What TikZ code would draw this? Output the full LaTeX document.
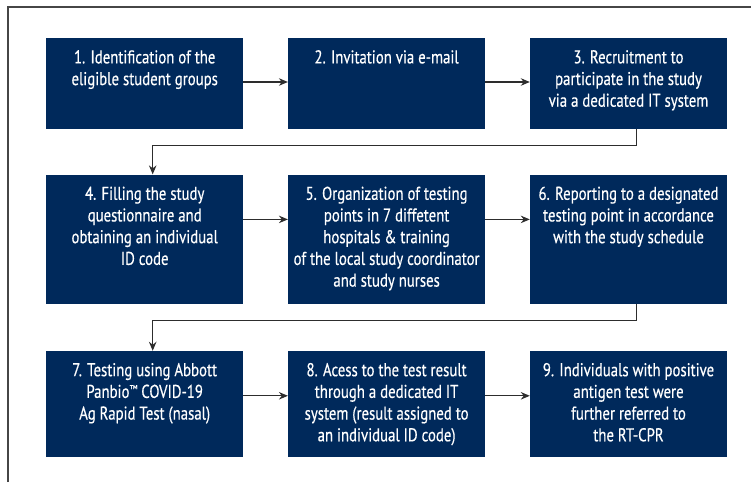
\documentclass[tikz,border=0pt]{standalone}
\usepackage{fontspec}
\usepackage{xcolor}
\usetikzlibrary{
    arrows.meta,
    positioning
}
\newfontfamily\stepfont[FakeStretch=0.8, FakeBold=0.4]{PT Sans}
\definecolor{navy}{RGB}{0,41,91}
\definecolor{linegray}{RGB}{45,45,45}
\definecolor{framegray}{RGB}{70,70,70}
\newcommand{\steptext}[2]{\parbox[c][#1][t]{197pt}{\centering\vspace{12pt}#2\par}}
\newcommand{\smalltm}{\raisebox{0.27em}{\scalebox{0.6}{™}}}

\begin{document}
\begin{tikzpicture}[x=1pt, y=-1pt,
    stepbox/.style={fill=navy, text=white, inner sep=0pt,
        font=\stepfont\fontsize{18.5pt}{21.7pt}\selectfont},
    flow/.style={draw=linegray, line width=1.2pt, -{Stealth[length=9pt, width=7.5pt]}},
    node distance=45pt and 44.5pt]
    \useasboundingbox (0, 0) rectangle (751, 482);
    \draw[framegray, line width=1.4pt] (8, 482) -- (8, 7) -- (751, 7);
    % first row
    \node[stepbox, anchor=north west] (s1) at (46, 38) {\steptext{91pt}{1. Identification of the\\eligible student groups}};
    \node[stepbox, right=of s1] (s2) {\steptext{91pt}{2. Invitation via e-mail}};
    \node[stepbox, right=of s2] (s3) {\steptext{91pt}{3. Recruitment to\\participate in the study\\via a dedicated IT system}};
    % second row
    \node[stepbox, below=of s1] (s4) {\steptext{129pt}{4. Filling the study\\questionnaire and\\obtaining an individual\\ID code}};
    \node[stepbox, right=of s4] (s5) {\steptext{129pt}{5. Organization of testing\\points in 7 diffetent\\hospitals \& training\\of the local study coordinator\\and study nurses}};
    \node[stepbox, right=of s5] (s6) {\steptext{129pt}{6. Reporting to a designated\\testing point in accordance\\with the study schedule}};
    % third row
    \node[stepbox, below=47pt of s4] (s7) {\steptext{106pt}{7. Testing using Abbott\\Panbio\smalltm{} COVID-19\\Ag Rapid Test (nasal)}};
    \node[stepbox, right=of s7] (s8) {\steptext{106pt}{8. Acess to the test result\\through a dedicated IT\\system (result assigned to\\an individual ID code)}};
    \node[stepbox, right=of s8] (s9) {\steptext{106pt}{9. Individuals with positive\\antigen test were\\further referred to\\the RT-CPR}};
    \draw[flow] ([yshift=-44pt]s1.north east) -- ([yshift=-44pt]s2.north west);
    \draw[flow] ([yshift=-44pt]s2.north east) -- ([yshift=-44pt]s3.north west);
    \draw[flow] ([xshift=8pt]s3.south) -- ++(0, 16) -| ([xshift=8pt]s4.north);
    \draw[flow] ([yshift=-45pt]s4.north east) -- ([yshift=-45pt]s5.north west);
    \draw[flow] ([yshift=-45pt]s5.north east) -- ([yshift=-45pt]s6.north west);
    \draw[flow] ([xshift=8pt]s6.south) -- ++(0, 17) -| ([xshift=8pt]s7.north);
    \draw[flow] ([yshift=-45pt]s7.north east) -- ([yshift=-45pt]s8.north west);
    \draw[flow] ([yshift=-45pt]s8.north east) -- ([yshift=-45pt]s9.north west);
\end{tikzpicture}
\end{document}
